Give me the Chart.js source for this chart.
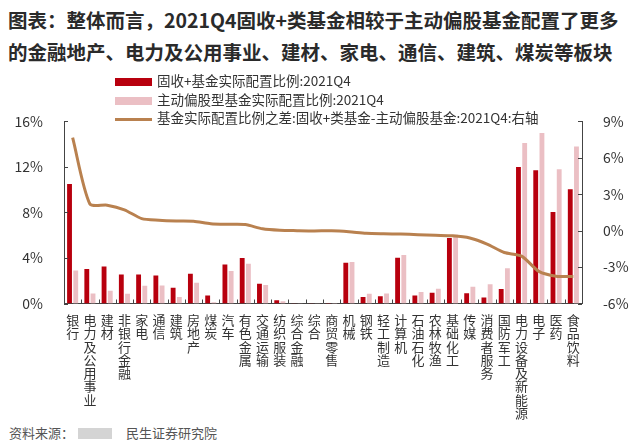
<!DOCTYPE html>
<html>
<head>
<meta charset="utf-8">
<script src="https://cdn.jsdelivr.net/npm/chart.js@4/dist/chart.umd.min.js"></script>
<style>
body { margin:0; background:#fff; font-family:"Noto Sans CJK SC", sans-serif; color:#333; }
#wrap { position:relative; width:640px; height:445px; overflow:hidden; }
#title { position:absolute; left:8px; top:4px; font-size:19.5px; font-weight:700; line-height:32px; color:#2a2a2a; white-space:nowrap; }
#box { position:absolute; left:0; top:100px; width:640px; height:320px; }
#legend { position:absolute; left:115px; top:71px; font-size:13.5px; color:#333; }
#legend .item { height:18.5px; line-height:18.5px; white-space:nowrap; }
#legend .sw { display:inline-block; width:37px; vertical-align:middle; margin-right:5px; }
#source { position:absolute; left:9px; top:423px; font-size:13px; color:#555; white-space:nowrap; }
#source .blur { display:inline-block; width:34px; height:11px; background:#d4d4d4; margin:0 14px 0 4px; vertical-align:-1px; }
</style>
</head>
<body>
<div id="wrap">
  <div id="title">图表：整体而言，2021Q4固收+类基金相较于主动偏股基金配置了更多<br>的金融地产、电力及公用事业、建材、家电、通信、建筑、煤炭等板块</div>
  <div id="box"><canvas id="myChart"></canvas></div>
  <div id="legend"></div>
  <div id="source">资料来源：<span class="blur"></span>民生证券研究院</div>
</div>
<script>
// categories (industries)
const industries = ['银行','电力及公用事业','建材','非银行金融','家电','通信','建筑','房地产','煤炭','汽车',
  '有色金属','交通运输','纺织服装','综合金融','综合','商贸零售','机械','钢铁','轻工制造','计算机',
  '石油石化','农林牧渔','基础化工','传媒','消费者服务','国防军工','电力设备及新能源','电子','医药','食品饮料']

// 固收+基金实际配置比例 (%)
const fixedPlus = [10.5, 3.04, 3.24, 2.54, 2.54, 2.45, 1.39, 2.62, 0.71, 3.42,
  3.99, 1.74, 0.29, 0.02, 0.02, 0.05, 3.57, 0.57, 0.63, 4.02,
  0.71, 0.94, 5.75, 0.91, 0.52, 1.27, 12.0, 11.7, 8.05, 10.04]

// 主动偏股型基金实际配置比例 (%)
const activeEquity = [2.9, 0.88, 1.13, 0.86, 1.55, 1.58, 0.57, 1.83, 0.1, 2.86,
  3.49, 1.63, 0.2, 0.02, 0.03, 0.05, 3.65, 0.85, 0.88, 4.27,
  1.02, 1.3, 6.05, 1.47, 1.7, 3.09, 14.1, 14.98, 11.8, 13.8]

// 差值 (右轴, %)
const diff = [7.66, 2.2, 2.1, 1.72, 0.99, 0.86, 0.8, 0.78, 0.57, 0.52,
  0.5, 0.15, 0.03, 0.0, -0.02, 0.0, -0.08, -0.22, -0.26, -0.28,
  -0.33, -0.38, -0.42, -0.6, -1.1, -1.8, -2.1, -3.35, -3.75, -3.78]

// axis ticks
const leftTicks = [0, 4, 8, 12, 16]
const rightTicks = [-6, -3, 0, 3, 6, 9]

const seriesNames = ['固收+基金实际配置比例:2021Q4', '主动偏股型基金实际配置比例:2021Q4',
  '基金实际配置比例之差:固收+类基金-主动偏股基金:2021Q4:右轴']

const fontFam = '"Noto Sans CJK SC", sans-serif'

// small inward tick marks on the axes
const innerTicks = {
  id: 'innerTicks',
  afterDraw(chart) {
    const ctx = chart.ctx
    const a = chart.chartArea
    const y = chart.scales.y, y1 = chart.scales.y1
    ctx.save()
    ctx.strokeStyle = '#444'
    ctx.lineWidth = 1
    ctx.beginPath()
    leftTicks.forEach(v => {
      const p = Math.round(y.getPixelForValue(v)) + 0.5
      ctx.moveTo(a.left, p); ctx.lineTo(a.left + 4, p)
    })
    rightTicks.forEach(v => {
      const p = Math.round(y1.getPixelForValue(v)) + 0.5
      ctx.moveTo(a.right, p); ctx.lineTo(a.right - 4, p)
    })
    const n = industries.length
    for (let i = 0; i <= n; i++) {
      const p = Math.round(a.left + i * (a.right - a.left) / n) + 0.5
      ctx.moveTo(p, a.bottom); ctx.lineTo(p, a.bottom - 4)
    }
    ctx.stroke()
    ctx.restore()
  }
}

const data = {
  labels: industries,
  datasets: [{
    type: 'bar',
    label: seriesNames[0],
    data: fixedPlus,
    backgroundColor: '#b8000e',
    yAxisID: 'y',
    categoryPercentage: 0.72,
    barPercentage: 0.78,
    order: 2
  }, {
    type: 'bar',
    label: seriesNames[1],
    data: activeEquity,
    backgroundColor: '#ebbfc4',
    yAxisID: 'y',
    categoryPercentage: 0.72,
    barPercentage: 0.78,
    order: 2
  }, {
    type: 'line',
    label: seriesNames[2],
    data: diff,
    borderColor: '#b9814f',
    borderWidth: 3,
    pointRadius: 0,
    tension: 0.25,
    yAxisID: 'y1',
    order: 0
  }]
}

const config = {
  data,
  options: {
    responsive: true,
    maintainAspectRatio: false,
    animation: false,
    layout: { padding: { top: 13, left: 0, right: 0, bottom: 0 } },
    plugins: { legend: { display: false }, tooltip: { enabled: false } },
    scales: {
      x: {
        offset: true,
        grid: { display: false },
        border: { display: true, color: '#444' },
        ticks: {
          autoSkip: false, maxRotation: 0, minRotation: 0, padding: 2,
          color: '#333',
          font: { family: fontFam, size: 13, lineHeight: 1.02 },
          callback: function(v, i) { return industries[i].split('') }
        },
        afterFit: function(s) { s.height = 116.5 }
      },
      y: {
        position: 'left', min: 0, max: 16,
        grid: { display: false },
        border: { display: true, color: '#444' },
        ticks: {
          stepSize: 4, padding: 13, color: '#333',
          font: { family: fontFam, size: 14 },
          callback: v => v + '%'
        },
        afterFit: function(s) { s.width = 64 }
      },
      y1: {
        position: 'right', min: -6, max: 9,
        grid: { display: false },
        border: { display: true, color: '#444' },
        ticks: {
          stepSize: 3, padding: 13, color: '#333',
          font: { family: fontFam, size: 14 },
          callback: v => v + '%'
        },
        afterFit: function(s) { s.width = 58 }
      }
    }
  },
  plugins: [innerTicks]
}

let myChart = new Chart(document.getElementById('myChart'), config)

// html legend, stacked like the original
const legend = document.getElementById('legend')
myChart.data.datasets.forEach(function(ds) {
  const row = document.createElement('div')
  row.className = 'item'
  const sw = document.createElement('span')
  sw.className = 'sw'
  if (ds.type === 'line') {
    sw.style.height = '3px'
    sw.style.background = ds.borderColor
  } else {
    sw.style.height = '8px'
    sw.style.background = ds.backgroundColor
  }
  row.appendChild(sw)
  row.appendChild(document.createTextNode(ds.label))
  legend.appendChild(row)
})
</script>
</body>
</html>
